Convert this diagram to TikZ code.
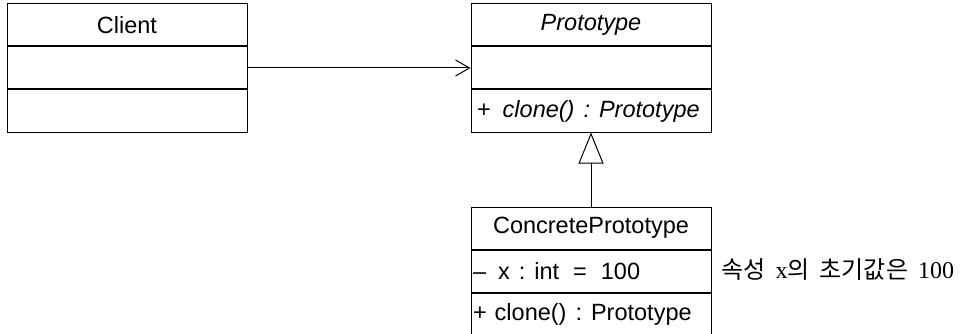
\documentclass[tikz,border=0pt]{standalone}
\usepackage{fontspec}
\setmainfont{Liberation Sans}
\newfontfamily\cjk{Noto Sans CJK KR}
\newfontfamily\serifnote{Liberation Serif}
\usetikzlibrary{positioning,arrows.meta}

\tikzset{
    classrow/.style={draw, line width=1pt, minimum width=240pt, minimum height=42pt,
        inner sep=0pt, font=\fontsize{23.5}{26}\selectfont},
    memberrow/.style={classrow, text width=236pt, align=left, inner xsep=2pt},
}

\begin{document}
\begin{tikzpicture}[x=1pt, y=-1pt]
    \useasboundingbox (0,0) rectangle (965,334);

    % Client
    \node[classrow] (client) at (127,25) {Client};
    \node[classrow, below=0pt of client] (clientattr) {};
    \node[classrow, below=0pt of clientattr] (clientop) {};

    % Prototype
    \node[classrow] (proto) at (591,25) {\itshape Prototype};
    \node[classrow, below=0pt of proto] (protoattr) {};
    \node[memberrow, below=0pt of protoattr] (protoop) {\hspace{4pt}+\hspace{12pt}\itshape clone()\hspace{9pt}:\hspace{9pt}Prototype};

    % ConcretePrototype
    \node[classrow] (concrete) at (591,228) {ConcretePrototype};
    \node[memberrow, below=0pt of concrete] (concreteattr) {--\hspace{12pt}x\hspace{9pt}:\hspace{9pt}int\hspace{14pt}=\hspace{14pt}100};
    \node[memberrow, below=0pt of concreteattr] (concreteop) {+\hspace{8pt}clone()\hspace{9pt}:\hspace{9pt}Prototype};

    \node[anchor=west, font=\fontsize{24}{26}\selectfont] (note) at (718,270)
        {\cjk 속성\hspace{10pt}\serifnote x\cjk 의\hspace{10pt}초기값은\hspace{10pt}\serifnote 100};

    \draw[line width=1pt, -{Straight Barb[length=14pt, width=16pt, line width=1pt]}]
        (clientattr.east) -- (protoattr.west);
    \draw[line width=1pt, -{Triangle[open, length=31pt, width=25pt, line width=1pt]}]
        (concrete.north) -- (protoop.south);
\end{tikzpicture}
\end{document}
